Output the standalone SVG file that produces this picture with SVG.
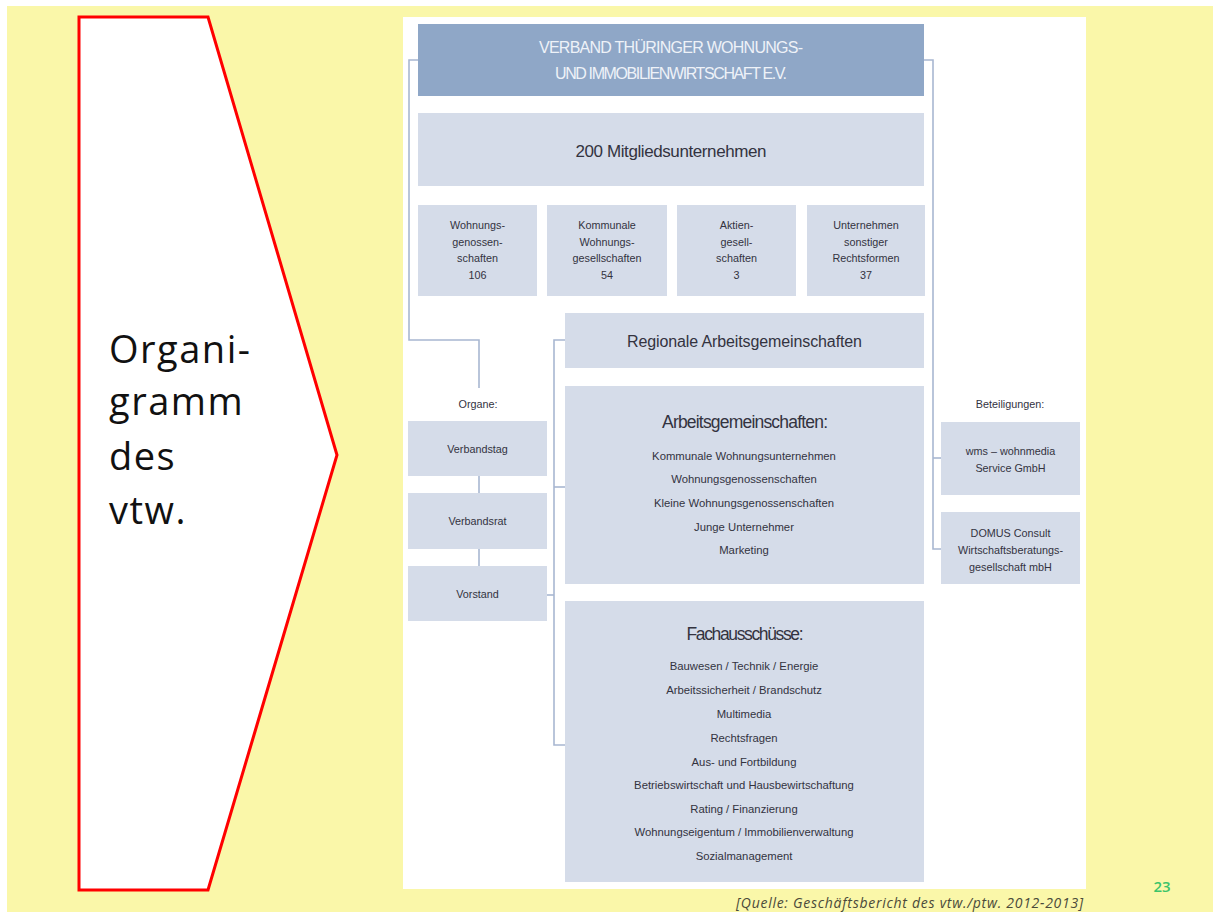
<svg xmlns="http://www.w3.org/2000/svg" width="1213" height="912" viewBox="0 0 1213 912">
<style>
.box{fill:#D5DCE9}
.hdr{fill:#8FA7C7}
.ln{fill:none;stroke:#A8B7D1;stroke-width:1.6}
.t{font-family:"Liberation Sans Narrow","Liberation Sans",sans-serif;fill:#33333f;text-anchor:middle}
.s{font-size:10.8px}
.m{font-size:11.3px}
</style>
<rect width="1213" height="912" fill="#FFFFFF"/>
<rect x="7" y="6" width="1206" height="906" fill="#FAF7A9"/>
<g id="arrow">
<polygon points="79,17 208,17 337,455 208,890 79,890" fill="#FFFFFF" stroke="#FF0000" stroke-width="3"/>
<text font-family="'Open Sans','Noto Sans',sans-serif" font-size="38" font-weight="500" letter-spacing="1.5" fill="#111">
<tspan x="109" y="363">Organi-</tspan>
<tspan x="109" y="415">gramm</tspan>
<tspan x="109" y="470">des</tspan>
<tspan x="109" y="524">vtw.</tspan>
</text>
</g>
<rect x="403" y="17" width="683" height="872" fill="#FFFFFF"/>
<g id="connectors">
<polyline class="ln" points="418,60 409,60 409,340 479,340 479,388"/>
<polyline class="ln" points="924,60 933,60 933,549 941,549"/>
<line class="ln" x1="933" y1="458" x2="941" y2="458"/>
<line class="ln" x1="479" y1="476" x2="479" y2="493"/>
<line class="ln" x1="479" y1="549" x2="479" y2="566"/>
<polyline class="ln" points="565,340 554,340 554,745 565,745"/>
<line class="ln" x1="554" y1="487" x2="565" y2="487"/>
<line class="ln" x1="547" y1="595" x2="554" y2="595"/>
</g>
<g id="verband">
<rect class="hdr" x="418" y="24" width="506" height="72"/>
<text class="t" font-size="16" style="fill:#EEF2F8"><tspan x="671" y="53" textLength="264">VERBAND THÜRINGER WOHNUNGS-</tspan><tspan x="671" y="79" textLength="232">UND IMMOBILIENWIRTSCHAFT E.V.</tspan></text>
</g>
<g id="mitglieder">
<rect class="box" x="418" y="113" width="506" height="73"/>
<text class="t" font-size="17" x="671" y="157" textLength="191">200 Mitgliedsunternehmen</text>
</g>
<g id="wg">
<rect class="box" x="418" y="205" width="119" height="91"/>
<text class="t s"><tspan x="477.5" y="229">Wohnungs-</tspan><tspan x="477.5" y="246">genossen-</tspan><tspan x="477.5" y="262">schaften</tspan><tspan x="477.5" y="279">106</tspan></text>
</g>
<g id="kommunale">
<rect class="box" x="547" y="205" width="120" height="91"/>
<text class="t s"><tspan x="607" y="229">Kommunale</tspan><tspan x="607" y="246">Wohnungs-</tspan><tspan x="607" y="262">gesellschaften</tspan><tspan x="607" y="279">54</tspan></text>
</g>
<g id="aktien">
<rect class="box" x="677" y="205" width="119" height="91"/>
<text class="t s"><tspan x="736.5" y="229">Aktien-</tspan><tspan x="736.5" y="246">gesell-</tspan><tspan x="736.5" y="262">schaften</tspan><tspan x="736.5" y="279">3</tspan></text>
</g>
<g id="sonstige">
<rect class="box" x="807" y="205" width="118" height="91"/>
<text class="t s"><tspan x="866" y="229">Unternehmen</tspan><tspan x="866" y="246">sonstiger</tspan><tspan x="866" y="262">Rechtsformen</tspan><tspan x="866" y="279">37</tspan></text>
</g>
<g id="regional">
<rect class="box" x="565" y="313" width="359" height="55"/>
<text class="t" font-size="16" x="744.5" y="347" textLength="235">Regionale Arbeitsgemeinschaften</text>
</g>
<g id="arbeitsgemeinschaften">
<rect class="box" x="565" y="386" width="359" height="198"/>
<text class="t" font-size="17.5" x="745" y="428" textLength="166">Arbeitsgemeinschaften:</text>
<text class="t m"><tspan x="744" y="460">Kommunale Wohnungsunternehmen</tspan><tspan x="744" y="483">Wohnungsgenossenschaften</tspan><tspan x="744" y="507">Kleine Wohnungsgenossenschaften</tspan><tspan x="744" y="531">Junge Unternehmer</tspan><tspan x="744" y="554">Marketing</tspan></text>
</g>
<g id="fachausschuesse">
<rect class="box" x="565" y="601" width="359" height="281"/>
<text class="t" font-size="17.5" x="745" y="640" textLength="117">Fachausschüsse:</text>
<text class="t m"><tspan x="744" y="670">Bauwesen / Technik / Energie</tspan><tspan x="744" y="694">Arbeitssicherheit / Brandschutz</tspan><tspan x="744" y="718">Multimedia</tspan><tspan x="744" y="742">Rechtsfragen</tspan><tspan x="744" y="766">Aus- und Fortbildung</tspan><tspan x="744" y="789">Betriebswirtschaft und Hausbewirtschaftung</tspan><tspan x="744" y="813">Rating / Finanzierung</tspan><tspan x="744" y="836">Wohnungseigentum / Immobilienverwaltung</tspan><tspan x="744" y="860">Sozialmanagement</tspan></text>
</g>
<g id="organe">
<text class="t s" x="478" y="408">Organe:</text>
</g>
<g id="verbandstag">
<rect class="box" x="408" y="421" width="139" height="55"/>
<text class="t s" x="477.5" y="453">Verbandstag</text>
</g>
<g id="verbandsrat">
<rect class="box" x="408" y="493" width="139" height="56"/>
<text class="t s" x="477.5" y="525">Verbandsrat</text>
</g>
<g id="vorstand">
<rect class="box" x="408" y="566" width="139" height="55"/>
<text class="t s" x="477.5" y="598">Vorstand</text>
</g>
<g id="beteiligungen">
<text class="t s" x="1010" y="408">Beteiligungen:</text>
</g>
<g id="wms">
<rect class="box" x="941" y="422" width="139" height="73"/>
<text class="t s"><tspan x="1010.5" y="455">wms – wohnmedia</tspan><tspan x="1010.5" y="472">Service GmbH</tspan></text>
</g>
<g id="domus">
<rect class="box" x="941" y="512" width="139" height="72"/>
<text class="t s"><tspan x="1010.5" y="537">DOMUS Consult</tspan><tspan x="1010.5" y="554">Wirtschaftsberatungs-</tspan><tspan x="1010.5" y="571">gesellschaft mbH</tspan></text>
</g>
<text x="1083" y="908" font-family="'Open Sans','Noto Sans',sans-serif" font-style="italic" font-size="14" fill="#4a4a3a" text-anchor="end" textLength="347">[Quelle: Geschäftsbericht des vtw./ptw. 2012-2013]</text>
<text x="1162" y="892" font-family="'Open Sans','Noto Sans',sans-serif" font-size="15" font-weight="600" fill="#3CC46A" text-anchor="middle">23</text>
</svg>
